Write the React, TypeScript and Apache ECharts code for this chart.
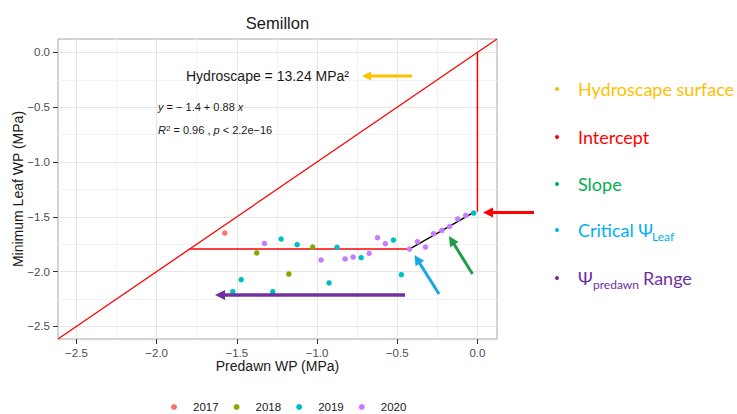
import React, { useEffect, useRef } from "react";
import * as echarts from "echarts";

// Axis limits (shared by both axes) and tick values
const AXIS_MIN = -2.615;
const AXIS_MAX = 0.122;
const majorTicks = [-2.5, -2.0, -1.5, -1.0, -0.5, 0.0];
const minorTicks = [-2.25, -1.75, -1.25, -0.75, -0.25];

// Years and colours
const years = ["2017", "2018", "2019", "2020"];
const yearColors = ["#F8766D", "#7CAE00", "#00BFC4", "#C77CFF"];

// Observations [predawn WP, minimum leaf WP]
const pts2017 = [[-1.575, -1.648]];
const pts2018 = [
  [-1.376, -1.83],
  [-1.027, -1.776],
  [-1.176, -2.022],
];
const pts2019 = [
  [-1.224, -1.703],
  [-1.124, -1.755],
  [-0.875, -1.779],
  [-0.725, -1.873],
  [-0.524, -1.712],
  [-0.023, -1.466],
  [-1.473, -2.074],
  [-1.525, -2.183],
  [-1.276, -2.183],
  [-0.925, -2.104],
  [-0.474, -2.028],
];
const pts2020 = [
  [-1.328, -1.743],
  [-0.975, -1.894],
  [-0.825, -1.885],
  [-0.775, -1.867],
  [-0.675, -1.834],
  [-0.623, -1.691],
  [-0.574, -1.745],
  [-0.424, -1.794],
  [-0.374, -1.727],
  [-0.324, -1.776],
  [-0.274, -1.654],
  [-0.222, -1.624],
  [-0.173, -1.588],
  [-0.123, -1.52],
  [-0.073, -1.487],
];
const yearData = [pts2017, pts2018, pts2019, pts2020];

// Reference / hydroscape lines
const oneToOneLine = [
  [AXIS_MIN, AXIS_MIN],
  [AXIS_MAX, AXIS_MAX],
];
const interceptLine = [
  [0, 0],
  [0, -1.453],
];
const criticalLine = [
  [-1.795, -1.795],
  [-0.424, -1.795],
];
const slopeLine = [
  [-0.424, -1.795],
  [-0.02, -1.457],
];

const fmt = (v: number) => {
  const r = Math.round(v * 10) / 10;
  if (Math.abs(v - r) > 1e-6 || Math.abs(r * 2 - Math.round(r * 2)) > 1e-6) return "";
  return (r < 0 ? "\u2212" : "") + Math.abs(r).toFixed(1);
};

function arrow(x1: number, y1: number, x2: number, y2: number, color: string, w: number, head = 10, hw = 5) {
  const a = Math.atan2(y2 - y1, x2 - x1);
  const c = Math.cos(a);
  const s = Math.sin(a);
  const bx = x2 - head * c;
  const by = y2 - head * s;
  return [
    {
      type: "line",
      z: 100,
      shape: { x1, y1, x2: bx + c, y2: by + s },
      style: { stroke: color, lineWidth: w },
    },
    {
      type: "polygon",
      z: 100,
      shape: {
        points: [
          [x2, y2],
          [bx + hw * s, by - hw * c],
          [bx - hw * s, by + hw * c],
        ],
      },
      style: { fill: color },
    },
  ];
}

const FONT = "Liberation Sans, Arial, sans-serif";
const SIDE_FONT = "Lato, 'Open Sans', sans-serif";

export default function App() {
  const ref = useRef<HTMLDivElement>(null);
  useEffect(() => {
    if (!ref.current) return;
    const chart = echarts.init(ref.current, undefined, { renderer: "svg" });

    const axisCommon = {
      type: "value",
      min: AXIS_MIN,
      max: AXIS_MAX,
      axisLine: { show: false, onZero: false },
      axisTick: { show: true, length: 5, customValues: majorTicks, lineStyle: { color: "#333333", width: 1 } },
      axisLabel: {
        customValues: majorTicks,
        formatter: (v: number) => fmt(v),
        color: "#4D4D4D",
        fontSize: 11.5,
        fontFamily: FONT,
      },
      splitLine: { show: true, lineStyle: { color: "#E6E6E6", width: 1 } },
      nameLocation: "middle",
      nameMoveOverlap: false,
      nameTextStyle: { fontSize: 14, color: "#1A1A1A", fontFamily: FONT },
    };

    const sideItems = [
      { y: 89, color: "#FFC000", parts: [{ t: "Hydroscape surface", x: 578, dy: 0, fs: 18 }] },
      { y: 137, color: "#FF0000", parts: [{ t: "Intercept", x: 578, dy: 0, fs: 18 }] },
      { y: 184, color: "#00B050", parts: [{ t: "Slope", x: 578, dy: 0, fs: 18 }] },
      {
        y: 230,
        color: "#00B0F0",
        parts: [
          { t: "Critical \u03A8", x: 578, dy: 0, fs: 18 },
          { t: "Leaf", x: 652, dy: 6, fs: 12 },
        ],
      },
      {
        y: 278,
        color: "#7030A0",
        parts: [
          { t: "\u03A8", x: 578, dy: 0, fs: 18 },
          { t: "predawn", x: 593, dy: 6, fs: 12 },
          { t: "Range", x: 643, dy: 0, fs: 18 },
        ],
      },
    ];

    const sideGraphics: any[] = [];
    sideItems.forEach((it) => {
      sideGraphics.push({
        type: "circle",
        z: 100,
        shape: { cx: 557, cy: it.y, r: 2 },
        style: { fill: it.color },
      });
      it.parts.forEach((p) => {
        sideGraphics.push({
          type: "text",
          z: 100,
          style: {
            text: p.t,
            x: p.x,
            y: it.y + p.dy,
            fill: it.color,
            font: `${p.fs}px ${SIDE_FONT}`,
            textAlign: "left",
            textVerticalAlign: "middle",
          },
        });
      });
    });

    const option: any = {
      animation: false,
      backgroundColor: "#FFFFFF",
      textStyle: { fontFamily: FONT },
      grid: {
        left: 58,
        right: 240,
        top: 39,
        bottom: 75,
        show: true,
        borderColor: "#A6A6A6",
        borderWidth: 1,
        backgroundColor: "transparent",
        containLabel: false,
        outerBoundsMode: "none",
      },
      xAxis: { ...axisCommon, name: "Predawn WP (MPa)", nameGap: 20 },
      yAxis: { ...axisCommon, name: "Minimum Leaf WP (MPa)", nameGap: 33 },
      legend: {
        data: years,
        left: 166,
        top: 396,
        icon: "circle",
        itemWidth: 6,
        itemHeight: 6,
        itemGap: 15,
        textStyle: { fontSize: 11.5, color: "#1A1A1A", padding: [0, 0, 0, 11], fontFamily: FONT },
      },
      series: [
        {
          name: "minorGrid",
          type: "line",
          data: [],
          silent: true,
          z: 1,
          markLine: {
            silent: true,
            z: 1,
            symbol: "none",
            label: { show: false },
            lineStyle: { color: "#F2F2F2", width: 1, type: "solid" },
            emphasis: { disabled: true },
            data: [
              ...minorTicks.map((v) => ({ xAxis: v })),
              ...minorTicks.map((v) => ({ yAxis: v })),
            ],
          },
        },
        {
          name: "oneToOne",
          type: "line",
          data: oneToOneLine,
          symbol: "none",
          silent: true,
          lineStyle: { color: "#FF0000", width: 1.3 },
          z: 3,
        },
        {
          name: "intercept",
          type: "line",
          data: interceptLine,
          symbol: "none",
          silent: true,
          lineStyle: { color: "#FF0000", width: 1.5 },
          z: 3,
        },
        {
          name: "critical",
          type: "line",
          data: criticalLine,
          symbol: "none",
          silent: true,
          lineStyle: { color: "#FF0000", width: 1.5 },
          z: 3,
        },
        {
          name: "slope",
          type: "line",
          data: slopeLine,
          symbol: "none",
          silent: true,
          lineStyle: { color: "#000000", width: 1.3 },
          z: 3,
        },
        ...years.map((y, i) => ({
          name: y,
          type: "scatter",
          data: yearData[i],
          symbolSize: 5.5,
          itemStyle: { color: yearColors[i], opacity: 1 },
          z: 5,
        })),
      ],
      graphic: [
        {
          type: "text",
          z: 100,
          style: {
            text: "Semillon",
            x: 277.5,
            y: 22.5,
            font: `16.5px ${FONT}`,
            fill: "#1A1A1A",
            textAlign: "center",
            textVerticalAlign: "middle",
          },
        },
        {
          type: "text",
          z: 100,
          style: {
            text: "Hydroscape = 13.24 MPa\u00B2",
            x: 186,
            y: 76,
            font: `14px ${FONT}`,
            fill: "#1A1A1A",
            textAlign: "left",
            textVerticalAlign: "middle",
          },
        },
        {
          type: "text",
          z: 100,
          style: {
            text: "{i|y} = \u2212 1.4 + 0.88 {i|x}",
            x: 158,
            y: 107,
            font: `11px ${FONT}`,
            fill: "#1A1A1A",
            textAlign: "left",
            textVerticalAlign: "middle",
            rich: { i: { fontStyle: "italic", fontSize: 11, fontFamily: FONT, fill: "#1A1A1A" } },
          },
        },
        {
          type: "text",
          z: 100,
          style: {
            text: "{i|R}{sup|2} = 0.96 , {i|p} < 2.2e\u221216",
            x: 158,
            y: 130,
            font: `11px ${FONT}`,
            fill: "#1A1A1A",
            textAlign: "left",
            textVerticalAlign: "middle",
            rich: {
              i: { fontStyle: "italic", fontSize: 11, fontFamily: FONT },
              sup: { fontSize: 8, fontFamily: FONT, verticalAlign: "top" },
            },
          },
        },
        ...arrow(412, 76, 362, 76, "#FFC000", 3, 9, 4.5),
        ...arrow(534, 212.5, 483, 212.5, "#FF0000", 3, 10, 5),
        ...arrow(472.5, 274, 449, 236, "#1E9E4A", 3, 10, 5),
        ...arrow(439, 294, 414.5, 255, "#1BA8E4", 3, 10, 5),
        ...arrow(405, 295, 215, 295, "#7030A0", 3.5, 10, 5),
        ...sideGraphics,
      ],
    };

    chart.setOption(option);
    return () => chart.dispose();
  }, []);

  return <div ref={ref} style={{ width: 737, height: 414, position: "absolute", left: 0, top: 0 }} />;
}
